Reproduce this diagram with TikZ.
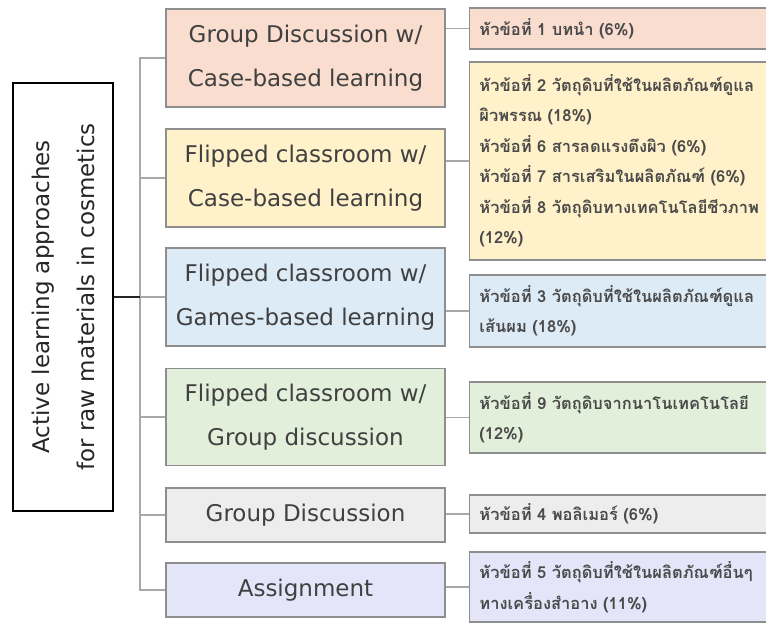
\documentclass[tikz,border=0pt]{standalone}
\usepackage{fontspec}
\newfontfamily\latinfont{DejaVu Sans}
\newfontfamily\thaifont[Script=Thai]{Loma}
\definecolor{boxline}{HTML}{8E8E8E}
\definecolor{linkgray}{HTML}{A8A8A8}
\definecolor{midtext}{HTML}{404040}
\definecolor{toptext}{HTML}{4A4A4A}
\definecolor{cPink}{HTML}{F9DDCF}
\definecolor{cYellow}{HTML}{FFF1C9}
\definecolor{cBlue}{HTML}{DDEBF7}
\definecolor{cGreen}{HTML}{E2EFDA}
\definecolor{cGray}{HTML}{EDEDED}
\definecolor{cLilac}{HTML}{E5E5F9}
\begin{document}
\begin{tikzpicture}[x=1pt,y=-1pt,
  mainbox/.style={draw=black, line width=1.8pt, fill=white, minimum width=100pt, minimum height=428pt, inner sep=0pt},
  maintext/.style={rotate=90, align=center, text=black!85, font=\latinfont\fontsize{23}{45}\selectfont},
  midbox/.style={draw=boxline, line width=1.6pt, minimum width=279pt, inner sep=0pt, text=midtext, align=center, font=\latinfont\fontsize{23}{44}\selectfont},
  topicbox/.style={draw=boxline, line width=1.4pt, anchor=west, text width=320pt, inner xsep=10pt, inner ysep=0pt, align=left, text=toptext, font=\thaifont\bfseries\fontsize{16.5}{30.5}\selectfont},
  link/.style={draw=linkgray, line width=1.5pt},
  mainlink/.style={draw=black!85, line width=1.6pt}]
\useasboundingbox (0,0) rectangle (766,623);
\clip (0,0) rectangle (766,623);
\fill[white] (0,0) rectangle (766,623);

% root
\node[mainbox] (main) at (63,297) {};
\node[maintext] (maintxt) at (main.center) {Active learning approaches\\for raw materials in cosmetics};

% teaching approaches
\node[midbox, fill=cPink,   minimum height=98pt] (m1) at (305.5,58)  {Group Discussion w/\\Case-based learning};
\node[midbox, fill=cYellow, minimum height=98pt] (m2) at (305.5,178) {Flipped classroom w/\\Case-based learning};
\node[midbox, fill=cBlue,   minimum height=98pt] (m3) at (305.5,297) {Flipped classroom w/\\Games-based learning};
\node[midbox, fill=cGreen,  minimum height=97pt] (m4) at (305.5,417) {Flipped classroom w/\\Group discussion};
\node[midbox, fill=cGray,   minimum height=54pt] (m5) at (305.5,515) {Group Discussion};
\node[midbox, fill=cLilac,  minimum height=54pt] (m6) at (305.5,590) {Assignment};

% topics
\node[topicbox, fill=cPink,   minimum height=41pt]  (r1) at (468.7,28.5) {หัวข้อที่ 1 บทนำ (6\%)};
\node[topicbox, fill=cYellow, minimum height=198pt] (r2) at (468.7,161)  {หัวข้อที่ 2 วัตถุดิบที่ใช้ในผลิตภัณฑ์ดูแล\\ผิวพรรณ (18\%)\\หัวข้อที่ 6 สารลดแรงตึงผิว (6\%)\\หัวข้อที่ 7 สารเสริมในผลิตภัณฑ์ (6\%)\\หัวข้อที่ 8 วัตถุดิบทางเทคโนโลยีชีวภาพ\\(12\%)};
\node[topicbox, fill=cBlue,   minimum height=72pt]  (r3) at (468.7,311)  {หัวข้อที่ 3 วัตถุดิบที่ใช้ในผลิตภัณฑ์ดูแล\\เส้นผม (18\%)};
\node[topicbox, fill=cGreen,  minimum height=71pt]  (r4) at (468.7,417.5) {หัวข้อที่ 9 วัตถุดิบจากนาโนเทคโนโลยี\\(12\%)};
\node[topicbox, fill=cGray,   minimum height=38pt]  (r5) at (468.7,514)  {หัวข้อที่ 4 พอลิเมอร์ (6\%)};
\node[topicbox, fill=cLilac,  minimum height=70pt]  (r6) at (468.7,587)  {หัวข้อที่ 5 วัตถุดิบที่ใช้ในผลิตภัณฑ์อื่นๆ\\ทางเครื่องสำอาง (11\%)};

% tree connectors
\coordinate (jn) at (140,297);
\draw[link] (m1.west) -- (m1.west -| jn) -- (m6.west -| jn) -- (m6.west);
\foreach \k in {2,...,5} \draw[link] (m\k.west) -- (m\k.west -| jn);
\draw[mainlink] (main.east) -- (jn);
\foreach \k in {1,...,6} \draw[link] (r\k.west) -- (r\k.west -| m1.east);
\end{tikzpicture}
\end{document}
